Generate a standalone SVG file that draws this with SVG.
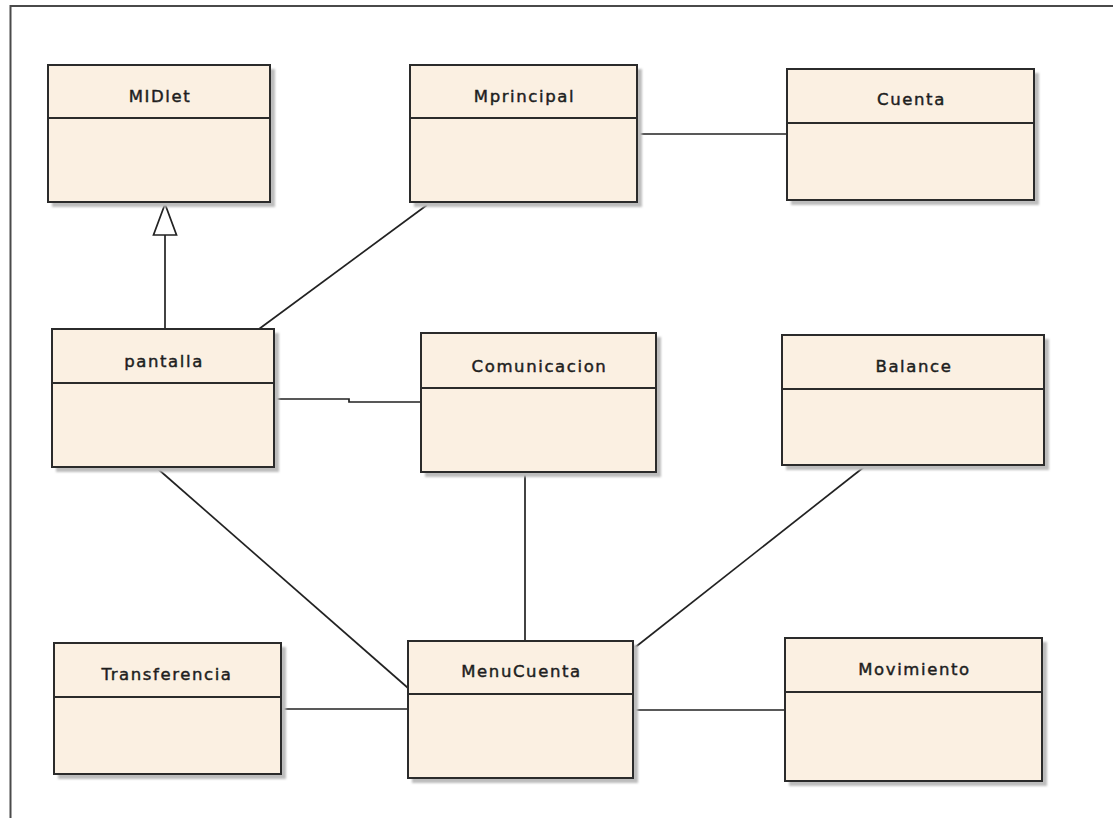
<svg xmlns="http://www.w3.org/2000/svg" width="1113" height="818" viewBox="0 0 1113 818">
<style>
.sh{fill:#bdbdbd;filter:url(#blur)}
.box{fill:#fbf0e2;stroke:#2b2b2b;stroke-width:2}
.div{stroke:#2b2b2b;stroke-width:2}
.lbl{font-family:"DejaVu Sans",sans-serif;font-size:16.5px;letter-spacing:1.6px;fill:#1e1e1e;stroke:#1e1e1e;stroke-width:0.45;text-anchor:middle}
.con{stroke:#222;stroke-width:1.7;fill:none}
.frame{stroke:#4a4a4a;stroke-width:2;fill:none}
</style>
<defs>
<filter id="blur" x="-5%" y="-5%" width="110%" height="110%"><feGaussianBlur stdDeviation="1.2"/></filter>
</defs>
<rect width="1113" height="818" fill="#fff"/>
<path class="frame" d="M10.5,818 V6 H1113"/>
<g id="connectors">
<line class="con" x1="165" y1="330" x2="165" y2="235"/>
<polygon points="165,204 153.5,235 176.5,235" fill="#fff" stroke="#222" stroke-width="1.7"/>
<line class="con" x1="427" y1="205" x2="259" y2="329"/>
<line class="con" x1="637" y1="134" x2="787" y2="134"/>
<polyline class="con" points="274,399 349,399 349,402 421,402"/>
<line class="con" x1="158" y1="469" x2="408" y2="688"/>
<line class="con" x1="525" y1="472" x2="525" y2="640"/>
<line class="con" x1="864" y1="467" x2="633" y2="649"/>
<line class="con" x1="281" y1="709" x2="408" y2="709"/>
<line class="con" x1="633" y1="710" x2="785" y2="710"/>
</g>
<g id="MIDlet">
<rect class="sh" x="52" y="69" width="223" height="138"/>
<rect class="box" x="48" y="65" width="222" height="137"/>
<line class="div" x1="48" y1="118" x2="270" y2="118"/>
<text class="lbl" x="160" y="102">MIDlet</text>
</g>
<g id="Mprincipal">
<rect class="sh" x="414" y="69" width="228" height="138"/>
<rect class="box" x="410" y="65" width="227" height="137"/>
<line class="div" x1="410" y1="118" x2="637" y2="118"/>
<text class="lbl" x="524.5" y="102">Mprincipal</text>
</g>
<g id="Cuenta">
<rect class="sh" x="791" y="73" width="248" height="132"/>
<rect class="box" x="787" y="69" width="247" height="131"/>
<line class="div" x1="787" y1="123" x2="1034" y2="123"/>
<text class="lbl" x="911.5" y="105">Cuenta</text>
</g>
<g id="pantalla">
<rect class="sh" x="56" y="333" width="223" height="139"/>
<rect class="box" x="52" y="329" width="222" height="138"/>
<line class="div" x1="52" y1="383" x2="274" y2="383"/>
<text class="lbl" x="164" y="367">pantalla</text>
</g>
<g id="Comunicacion">
<rect class="sh" x="425" y="337" width="236" height="140"/>
<rect class="box" x="421" y="333" width="235" height="139"/>
<line class="div" x1="421" y1="388" x2="656" y2="388"/>
<text class="lbl" x="539.5" y="372">Comunicacion</text>
</g>
<g id="Balance">
<rect class="sh" x="786" y="339" width="263" height="131"/>
<rect class="box" x="782" y="335" width="262" height="130"/>
<line class="div" x1="782" y1="389" x2="1044" y2="389"/>
<text class="lbl" x="914" y="372">Balance</text>
</g>
<g id="Transferencia">
<rect class="sh" x="58" y="647" width="228" height="132"/>
<rect class="box" x="54" y="643" width="227" height="131"/>
<line class="div" x1="54" y1="697" x2="281" y2="697"/>
<text class="lbl" x="167" y="680">Transferencia</text>
</g>
<g id="MenuCuenta">
<rect class="sh" x="412" y="645" width="226" height="138"/>
<rect class="box" x="408" y="641" width="225" height="137"/>
<line class="div" x1="408" y1="694" x2="633" y2="694"/>
<text class="lbl" x="521.5" y="677">MenuCuenta</text>
</g>
<g id="Movimiento">
<rect class="sh" x="789" y="642" width="258" height="144"/>
<rect class="box" x="785" y="638" width="257" height="143"/>
<line class="div" x1="785" y1="692" x2="1042" y2="692"/>
<text class="lbl" x="914.5" y="675">Movimiento</text>
</g>
</svg>
